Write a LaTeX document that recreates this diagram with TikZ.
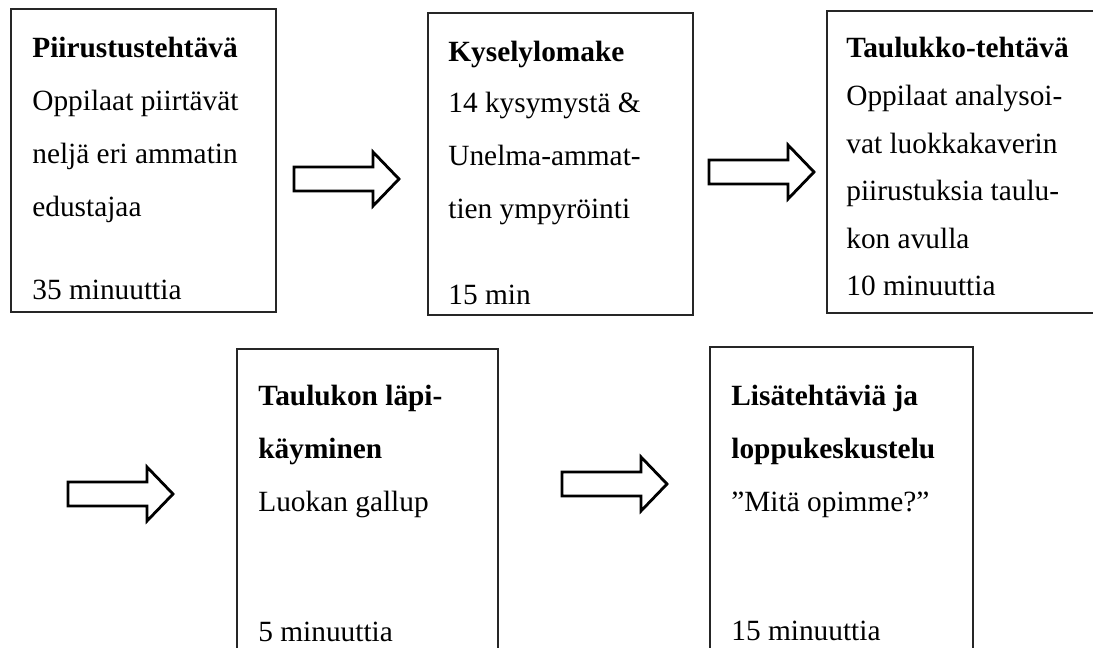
\documentclass[tikz,border=0pt]{standalone}
\usepackage{fontspec}
\setmainfont{Liberation Serif}
\usetikzlibrary{positioning}

\tikzset{
	box/.style={draw=black!85, line width=0.6pt},
	blockarrow/.style={draw=black, fill=white, line width=1.6pt, line join=miter},
	txt/.style={anchor=base west, inner sep=0pt, font=\fontsize{16.7pt}{20pt}\selectfont},
	head/.style={txt, font=\fontsize{16.7pt}{20pt}\selectfont\bfseries}
}

\begin{document}
\begin{tikzpicture}[x=0.2mm, y=-0.2mm]
	\useasboundingbox (0,0) rectangle (1093,648);
	\clip (0,0) rectangle (1093,648);
	
	% boxes
	\draw[box] (11,9) rectangle (276,312);
	\draw[box] (428,13) rectangle (693,315);
	\draw[box] (827,11) rectangle (1110,313);
	\draw[box] (237,349) rectangle (498,670);
	\draw[box] (710,347) rectangle (973,670);
	
	% block arrows
	\foreach \x/\y in {294/179, 709/172, 68/494, 562/484}
		\draw[blockarrow] (\x,\y-12) -- (\x+79,\y-12) -- (\x+79,\y-27) -- (\x+105,\y)
			-- (\x+79,\y+27) -- (\x+79,\y+12) -- (\x,\y+12) -- cycle;
	
	% 1
	\node[head] (t1) at (32,58) {Piirustustehtävä};
	\foreach \l [count=\i from 1] in {Oppilaat piirtävät, neljä eri ammatin, edustajaa}
		\node[txt] (b1-\i) at (32,58+53*\i) {\l};
	\node[txt] (m1) at (32,300) {35 minuuttia};
	
	% 2
	\node[head] (t2) at (448,62) {Kyselylomake};
	\foreach \l [count=\i from 1] in {14 kysymystä \&, Unelma-ammat-, tien ympyröinti}
		\node[txt] (b2-\i) at (448,60+53*\i) {\l};
	\node[txt] (m2) at (448,305) {15 min};
	
	% 3
	\node[head] (t3) at (846,58) {Taulukko-tehtävä};
	\foreach \l [count=\i from 1] in {Oppilaat analysoi-, vat luokkakaverin, piirustuksia taulu-, kon avulla, 10 minuuttia}
		\node[txt] (b3-\i) at (846,58+47.6*\i) {\l};
	
	% 4
	\node[head] (t4a) at (258,405) {Taulukon läpi-};
	\node[head] (t4b) at (258,458) {käyminen};
	\node[txt] (b4) at (258,511) {Luokan gallup};
	\node[txt] (m4) at (258,641) {5 minuuttia};
	
	% 5
	\node[head] (t5a) at (731,405) {Lisätehtäviä ja};
	\node[head] (t5b) at (731,458) {loppukeskustelu};
	\node[txt] (b5) at (731,511) {”Mitä opimme?”};
	\node[txt] (m5) at (731,640) {15 minuuttia};
\end{tikzpicture}
\end{document}
